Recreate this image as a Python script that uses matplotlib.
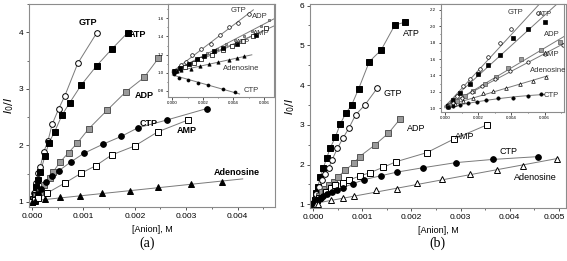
import numpy as np
import matplotlib
matplotlib.use('Agg')
import matplotlib.pyplot as plt
import matplotlib.transforms as mtransforms
from matplotlib.ticker import MultipleLocator

plt.rcParams['font.family'] = ['Liberation Sans', 'DejaVu Sans']

# ---- panel (a), main ----
a_gtp_x = [0, 0.00002, 0.00004, 0.00007, 0.00012, 0.00016, 0.00023, 0.00031, 0.00039, 0.00052, 0.00064, 0.00089, 0.00126]
a_gtp_y = [1.0, 1.04, 1.16, 1.33, 1.51, 1.62, 1.89, 2.08, 2.37, 2.65, 2.88, 3.45, 3.99]
a_atp_x = [0, 0.00002, 0.00005, 0.00008, 0.00012, 0.00016, 0.00025, 0.00033, 0.00044, 0.00058, 0.00073, 0.00096, 0.00126, 0.00156, 0.00186]
a_atp_y = [1.0, 1.05, 1.12, 1.26, 1.39, 1.52, 1.81, 2.05, 2.24, 2.53, 2.75, 3.07, 3.41, 3.71, 3.99]
a_adp_x = [0, 0.00003, 0.00008, 0.00015, 0.00024, 0.00034, 0.00041, 0.00055, 0.00071, 0.00088, 0.0011, 0.00146, 0.00183, 0.00218, 0.00246]
a_adp_y = [1.0, 1.04, 1.1, 1.18, 1.3, 1.43, 1.53, 1.71, 1.87, 2.04, 2.29, 2.62, 2.95, 3.2, 3.54]
a_ctp_x = [0, 0.00003, 0.00006, 0.00012, 0.00018, 0.00027, 0.00038, 0.00052, 0.00076, 0.00101, 0.00138, 0.00174, 0.00206, 0.00263, 0.0034]
a_ctp_y = [1.0, 1.02, 1.05, 1.14, 1.22, 1.36, 1.46, 1.55, 1.71, 1.86, 2.02, 2.16, 2.31, 2.45, 2.65]
a_amp_x = [0, 0.00005, 0.00012, 0.0003, 0.00065, 0.00096, 0.00124, 0.00155, 0.002, 0.00245, 0.00304]
a_amp_y = [1.0, 1.03, 1.07, 1.16, 1.34, 1.51, 1.64, 1.83, 1.99, 2.24, 2.45]
a_ado_x = [0, 0.00005, 0.00025, 0.00055, 0.00093, 0.00137, 0.00191, 0.00246, 0.00309, 0.00369]
a_ado_y = [1.0, 1.02, 1.05, 1.08, 1.11, 1.15, 1.2, 1.26, 1.31, 1.36]
a_ado_end = 0.0041

# ---- panel (a), inset ----
ai_gtp_x = [0.0002, 0.0006, 0.0009, 0.0013, 0.0019, 0.0025, 0.0031, 0.0037, 0.0043, 0.0050]
ai_gtp_y = [1.02, 1.09, 1.12, 1.20, 1.26, 1.32, 1.42, 1.50, 1.55, 1.65]
ai_adp_x = [0.0001, 0.0006, 0.0011, 0.0017, 0.0023, 0.0029, 0.0035, 0.0041, 0.0047, 0.0052, 0.0058, 0.0063]
ai_adp_y = [1.02, 1.06, 1.11, 1.16, 1.22, 1.26, 1.32, 1.36, 1.41, 1.46, 1.52, 1.58]
ai_amp_x = [0.0002, 0.0008, 0.0014, 0.0019, 0.0026, 0.0033, 0.0039, 0.0046, 0.0053, 0.0061]
ai_amp_y = [1.02, 1.06, 1.11, 1.15, 1.20, 1.25, 1.30, 1.35, 1.40, 1.49]
ai_atp_x = [0.0001, 0.0005, 0.0011, 0.0016, 0.0021, 0.0027, 0.0033, 0.0042, 0.0055]
ai_atp_y = [1.02, 1.05, 1.10, 1.15, 1.19, 1.24, 1.27, 1.32, 1.42]
ai_ado_x = [0.0001, 0.0003, 0.0006, 0.0012, 0.0018, 0.0024, 0.003, 0.0037, 0.0042, 0.0047]
ai_ado_y = [1.01, 1.02, 1.03, 1.04, 1.07, 1.10, 1.12, 1.14, 1.16, 1.18]
ai_ctp_x = [0.0001, 0.00044, 0.001, 0.0017, 0.00235, 0.00333, 0.0041]
ai_ctp_y = [0.99, 0.946, 0.92, 0.891, 0.866, 0.818, 0.785]
ai_ends = {'GTP': 0.0053, 'ADP': 0.0068, 'AMP': 0.0068, 'ATP': 0.0058, 'Adenosine': 0.0052, 'CTP': 0.0044}

# ---- panel (b), main ----
b_atp_x = [0, 0.00003, 0.00005, 0.00009, 0.00014, 0.0002, 0.00027, 0.00034, 0.00045, 0.00055, 0.00066, 0.00078, 0.00092, 0.00114, 0.00138, 0.00166, 0.00186]
b_atp_y = [1.0, 1.1, 1.28, 1.44, 1.70, 1.91, 2.16, 2.41, 2.70, 3.03, 3.29, 3.50, 3.90, 4.59, 4.88, 5.51, 5.58]
b_gtp_x = [0, 0.00003, 0.00006, 0.00012, 0.00017, 0.00024, 0.00031, 0.00038, 0.00049, 0.0006, 0.00072, 0.00086, 0.00105, 0.0013]
b_gtp_y = [1.0, 1.1, 1.27, 1.43, 1.61, 1.76, 1.91, 2.12, 2.41, 2.66, 2.91, 3.25, 3.50, 3.92]
b_adp_x = [0, 0.00003, 0.00007, 0.00012, 0.00018, 0.00024, 0.00032, 0.00041, 0.0005, 0.00065, 0.00082, 0.00094, 0.00125, 0.00153, 0.00177]
b_adp_y = [1.0, 1.06, 1.12, 1.2, 1.3, 1.38, 1.48, 1.57, 1.69, 1.86, 2.03, 2.20, 2.49, 2.79, 3.15]
b_amp_x = [0, 0.00003, 0.00007, 0.00012, 0.00025, 0.00035, 0.00045, 0.0006, 0.00072, 0.00094, 0.00116, 0.00142, 0.00168, 0.00231, 0.00286, 0.00354]
b_amp_y = [1.0, 1.05, 1.1, 1.17, 1.3, 1.41, 1.49, 1.54, 1.61, 1.71, 1.80, 1.93, 2.07, 2.30, 2.64, 3.0]
b_ctp_x = [0, 0.00002, 0.00005, 0.00008, 0.00012, 0.00016, 0.0002, 0.00028, 0.00038, 0.00048, 0.0006, 0.00081, 0.00103, 0.00138, 0.0017, 0.00223, 0.00291, 0.00366, 0.00458]
b_ctp_y = [1.0, 1.05, 1.08, 1.1, 1.13, 1.16, 1.2, 1.25, 1.3, 1.35, 1.42, 1.52, 1.62, 1.72, 1.81, 1.92, 2.05, 2.13, 2.2]
b_ado_x = [0.00005, 0.0001, 0.00035, 0.0006, 0.00082, 0.00128, 0.0017, 0.00211, 0.00262, 0.0032, 0.00375, 0.00428, 0.00496]
b_ado_y = [1.02, 1.0, 1.1, 1.15, 1.2, 1.36, 1.38, 1.53, 1.64, 1.76, 1.86, 1.96, 2.15]
b_ado_end = 0.005

# ---- panel (b), inset ----
bi_gtp_x = [0.0002, 0.0004, 0.0007, 0.0011, 0.0015, 0.0021, 0.0026, 0.0033, 0.004, 0.0056]
bi_gtp_y = [1.04, 1.08, 1.15, 1.27, 1.36, 1.48, 1.62, 1.79, 1.97, 2.16]
bi_atp_x = [0.0002, 0.0005, 0.0009, 0.0015, 0.002, 0.0026, 0.0033, 0.0041, 0.005, 0.006]
bi_atp_y = [1.03, 1.1, 1.19, 1.30, 1.42, 1.53, 1.65, 1.86, 1.96, 2.05]
bi_adp_x = [0.0003, 0.0007, 0.0012, 0.0017, 0.0024, 0.0031, 0.0038, 0.0046, 0.0058, 0.0069]
bi_adp_y = [1.04, 1.09, 1.15, 1.21, 1.30, 1.38, 1.49, 1.60, 1.71, 1.81]
bi_amp_x = [0.0002, 0.0005, 0.001, 0.0016, 0.0022, 0.003, 0.0039, 0.005, 0.006, 0.0071]
bi_amp_y = [1.03, 1.07, 1.13, 1.2, 1.27, 1.36, 1.45, 1.56, 1.66, 1.77]
bi_ado_x = [0.0002, 0.0006, 0.0011, 0.0017, 0.0023, 0.0029, 0.0037, 0.0045, 0.0053, 0.0061]
bi_ado_y = [1.02, 1.05, 1.09, 1.13, 1.18, 1.21, 1.25, 1.30, 1.33, 1.38]
bi_ctp_x = [0.0002, 0.0005, 0.0009, 0.0014, 0.0019, 0.0025, 0.0032, 0.0041, 0.005, 0.0058]
bi_ctp_y = [1.01, 1.03, 1.04, 1.06, 1.08, 1.1, 1.12, 1.13, 1.15, 1.17]
bi_ends = {'GTP': 0.0059, 'ATP': 0.0068, 'ADP': 0.0072, 'AMP': 0.0072, 'Adenosine': 0.0062, 'CTP': 0.006}

LINE = '#7a7a7a'
GRAYFILL = '#9a9a9a'
SPINE = '#8c8c8c'


def series(ax, x, y, marker, fc, ms, xend=None, deg=None, mew=0.7):
    # polyline through the points, or a fitted line out to xend
    if deg is None:
        ax.plot(x, y, color=LINE, lw=0.7, zorder=1)
    else:
        c = np.polyfit(x, y, deg)
        xx = np.linspace(0, xend, 100)
        ax.plot(xx, np.polyval(c, xx), color=LINE, lw=0.7, zorder=1)
    ec = '#555555' if fc == GRAYFILL else 'black'
    ax.plot(x, y, ls='none', marker=marker, ms=ms, mfc=fc, mec=ec, mew=mew, zorder=2)


def style(ax, fs):
    for s in ax.spines.values():
        s.set_color(SPINE)
        s.set_linewidth(0.8)
    ax.tick_params(which='both', direction='out', labelsize=fs, color='#333333', pad=1.5)
    ax.tick_params(which='major', length=2.5, width=0.6)
    ax.tick_params(which='minor', length=1.5, width=0.5)


fmt3 = plt.FuncFormatter(lambda v, p: '%.3f' % v)
fmt1 = plt.FuncFormatter(lambda v, p: '%.1f' % v)

fig = plt.figure(figsize=(5.67, 2.61), dpi=100)

# ================= (a) =================
ax = fig.add_axes([0.0511, 0.2069, 0.434, 0.778])
series(ax, a_gtp_x, a_gtp_y, 'o', 'white', 4.1)
series(ax, a_atp_x, a_atp_y, 's', 'black', 3.7)
series(ax, a_adp_x, a_adp_y, 's', GRAYFILL, 3.7)
series(ax, a_ctp_x, a_ctp_y, 'o', 'black', 4.1)
series(ax, a_amp_x, a_amp_y, 's', 'white', 3.7)
series(ax, a_ado_x, a_ado_y, '^', 'black', 4.1, a_ado_end, deg=1)
ax.set_xlim(-0.00006, 0.00473)
ax.set_ylim(0.91, 4.5)
ax.xaxis.set_major_locator(MultipleLocator(0.001))
ax.xaxis.set_minor_locator(MultipleLocator(0.0005))
ax.yaxis.set_major_locator(MultipleLocator(1))
ax.yaxis.set_minor_locator(MultipleLocator(0.5))
ax.xaxis.set_major_formatter(fmt3)
style(ax, 6)
ax.set_xlabel('[Anion], M', fontsize=6.5, labelpad=4)
ax.set_ylabel('$I_0/I$', fontsize=8, labelpad=2)
lab = dict(fontsize=6.5, fontweight='bold', ha='center', va='center', transform=ax.transAxes)
ax.text(0.24, 0.91, 'GTP', **lab)
ax.text(0.44, 0.85, 'ATP', **lab)
ax.text(0.47, 0.55, 'ADP', **lab)
ax.text(0.487, 0.41, 'CTP', **lab)
ax.text(0.64, 0.375, 'AMP', **lab)
ax.text(0.845, 0.17, 'Adenosine', **lab)

ia = fig.add_axes([0.2968, 0.6295, 0.187, 0.3552])
series(ia, ai_gtp_x, ai_gtp_y, 'o', 'white', 2.6, ai_ends['GTP'], deg=1, mew=0.5)
series(ia, ai_adp_x, ai_adp_y, 's', GRAYFILL, 2.0, ai_ends['ADP'], deg=1, mew=0.5)
series(ia, ai_amp_x, ai_amp_y, 's', 'white', 2.2, ai_ends['AMP'], deg=1, mew=0.5)
series(ia, ai_atp_x, ai_atp_y, 's', 'black', 2.2, ai_ends['ATP'], deg=1, mew=0.5)
series(ia, ai_ado_x, ai_ado_y, '^', 'black', 2.4, ai_ends['Adenosine'], deg=1, mew=0.5)
series(ia, ai_ctp_x, ai_ctp_y, 'o', 'black', 2.2, ai_ends['CTP'], deg=1, mew=0.5)
ia.set_xlim(-0.00026, 0.00667)
ia.set_ylim(0.737, 1.757)
ia.xaxis.set_major_locator(MultipleLocator(0.002))
ia.xaxis.set_minor_locator(MultipleLocator(0.001))
ia.yaxis.set_major_locator(MultipleLocator(0.2))
ia.yaxis.set_minor_locator(MultipleLocator(0.1))
ia.xaxis.set_major_formatter(fmt3)
ia.yaxis.set_major_formatter(fmt1)
style(ia, 3.2)
ia.tick_params(which='major', length=1.8)
ia.tick_params(which='minor', length=1.0)
il = dict(fontsize=5.5, color='#333333', ha='center', va='center', transform=ia.transAxes)
ia.text(0.66, 0.928, 'GTP', **il)
ia.text(0.868, 0.863, 'ADP', **il)
ia.text(0.88, 0.684, 'AMP', **il)
ia.text(0.707, 0.583, 'ATP', **il)
ia.text(0.692, 0.306, 'Adenosine', **il)
ia.text(0.787, 0.065, 'CTP', **il)

# ================= (b) =================
bx = fig.add_axes([0.5467, 0.2019, 0.4515, 0.7828])
series(bx, b_atp_x, b_atp_y, 's', 'black', 3.7)
series(bx, b_gtp_x, b_gtp_y, 'o', 'white', 4.1)
series(bx, b_adp_x, b_adp_y, 's', GRAYFILL, 3.7)
series(bx, b_amp_x, b_amp_y, 's', 'white', 3.7)
series(bx, b_ctp_x, b_ctp_y, 'o', 'black', 4.1)
series(bx, b_ado_x, b_ado_y, '^', 'white', 4.1, b_ado_end, deg=1)
bx.set_xlim(-0.00007, 0.00515)
bx.set_ylim(0.9, 6.04)
bx.xaxis.set_major_locator(MultipleLocator(0.001))
bx.xaxis.set_minor_locator(MultipleLocator(0.0005))
bx.yaxis.set_major_locator(MultipleLocator(1))
bx.yaxis.set_minor_locator(MultipleLocator(0.5))
bx.xaxis.set_major_formatter(fmt3)
style(bx, 6)
bx.set_xlabel('[Anion], M', fontsize=6.5, labelpad=4)
bx.set_ylabel('$I_0/I$', fontsize=8, labelpad=2)
lb = dict(fontsize=6.5, ha='center', va='center', transform=bx.transAxes)
bx.text(0.398, 0.857, 'ATP', **lb)
bx.text(0.325, 0.563, 'GTP', **lb)
bx.text(0.417, 0.391, 'ADP', **lb)
bx.text(0.605, 0.351, 'AMP', **lb)
bx.text(0.775, 0.277, 'CTP', **lb)
bx.text(0.882, 0.152, 'Adenosine', **lb)

ib = fig.add_axes([0.7772, 0.572, 0.2175, 0.4127])
series(ib, bi_gtp_x, bi_gtp_y, 'o', 'white', 2.6, bi_ends['GTP'], deg=1, mew=0.5)
series(ib, bi_atp_x, bi_atp_y, 's', 'black', 2.4, bi_ends['ATP'], deg=1, mew=0.5)
series(ib, bi_adp_x, bi_adp_y, 's', GRAYFILL, 2.2, bi_ends['ADP'], deg=1, mew=0.5)
series(ib, bi_amp_x, bi_amp_y, 'o', 'white', 2.4, bi_ends['AMP'], deg=1, mew=0.5)
series(ib, bi_ado_x, bi_ado_y, '^', 'white', 2.6, bi_ends['Adenosine'], deg=1, mew=0.5)
series(ib, bi_ctp_x, bi_ctp_y, 'o', 'black', 2.4, bi_ends['CTP'], deg=2, mew=0.5)
ib.set_xlim(-0.00026, 0.00717)
ib.set_ylim(0.958, 2.27)
ib.xaxis.set_major_locator(MultipleLocator(0.002))
ib.xaxis.set_minor_locator(MultipleLocator(0.001))
ib.yaxis.set_major_locator(MultipleLocator(0.2))
ib.yaxis.set_minor_locator(MultipleLocator(0.1))
ib.xaxis.set_major_formatter(fmt3)
ib.yaxis.set_major_formatter(fmt1)
style(ib, 3.2)
ib.tick_params(which='major', length=1.8)
ib.tick_params(which='minor', length=1.0)
jl = dict(fontsize=5.5, color='#333333', ha='center', va='center', transform=ib.transAxes)
ib.text(0.603, 0.919, 'GTP', **jl)
ib.text(0.85, 0.898, 'ATP', **jl)
ib.text(0.9, 0.721, 'ADP', **jl)
ib.text(0.9, 0.535, 'AMP', **jl)
ib.text(0.872, 0.38, 'Adenosine', **jl)
ib.text(0.9, 0.155, 'CTP', **jl)

# panel letters
fig.text(0.259, 0.068, '(a)', fontsize=10, family='Liberation Serif', ha='center', va='center')
fig.text(0.772, 0.068, '(b)', fontsize=10, family='Liberation Serif', ha='center', va='center')

# keep the last tick label of (b) inside the figure
fig.canvas.draw()
shift = mtransforms.ScaledTranslation(-4 / 100, 0, fig.dpi_scale_trans)
for t in bx.get_xticklabels():
    if t.get_text() == '0.005':
        t.set_transform(t.get_transform() + shift)

fig.savefig('out.png', dpi=100)
